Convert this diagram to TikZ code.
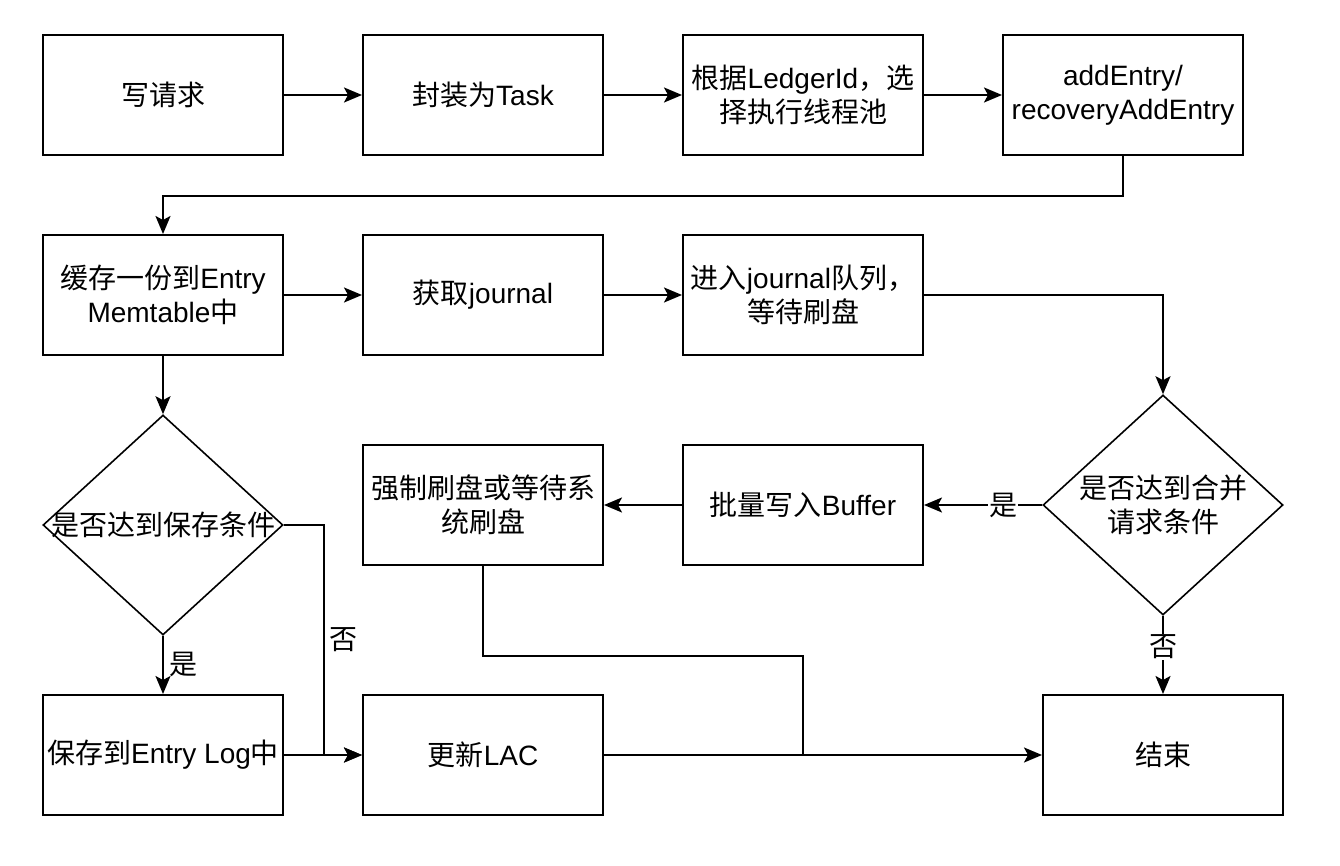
\documentclass[tikz,border=0pt]{standalone}
\usepackage{fontspec}
\setmainfont{Noto Sans CJK SC}
\newfontfamily\lat{Liberation Sans}
\usetikzlibrary{shapes.geometric,arrows.meta}
\newcommand\fs{\fontsize{28}{34}\selectfont}
\begin{document}
\begin{tikzpicture}[x=1pt,y=-1pt,
  box/.style={draw, line width=2pt, minimum width=240pt, minimum height=120pt, align=center, inner sep=0pt, font=\fs},
  dia/.style={draw, shape=diamond, line width=1.6pt, minimum width=240pt, minimum height=220pt, inner sep=0pt},
  txt/.style={align=center, inner sep=0pt, font=\fs},
  lbl/.style={font=\fs, fill=white, inner sep=1pt},
  line/.style={line width=2pt},
  arr/.style={line width=2pt, -{Stealth[length=18pt,width=15pt,inset=4pt]}}]
\fill[white] (0,0) rectangle (1340,866);
\useasboundingbox (0,0) rectangle (1340,866);
% row 1
\node[box] (a1) at (163,95) {写请求};
\node[box] (a2) at (483,95) {封装为{\lat Task}};
\node[box] (a3) at (803,95) {根据{\lat LedgerId}，选\\择执行线程池};
\node[box] (a4) at (1123,95) {{\lat addEntry/}\\{\lat recoveryAddEntry}};
% row 2
\node[box] (b1) at (163,295) {缓存一份到{\lat Entry}\\{\lat Memtable}中};
\node[box] (b2) at (483,295) {获取{\lat journal}};
\node[box] (b3) at (803,295) {进入{\lat journal}队列，\\等待刷盘};
% row 3
\node[box] (c1) at (483,505) {强制刷盘或等待系\\统刷盘};
\node[box] (c2) at (803,505) {批量写入{\lat Buffer}};
\node[dia] (d1) at (1163,505) {};
\node[txt] at (d1.center) {是否达到合并\\请求条件};
\node[dia] (d2) at (163,525) {};
\node[txt] at (d2.center) {是否达到保存条件};
% row 4
\node[box] (e1) at (163,755) {保存到{\lat Entry Log}中};
\node[box] (e2) at (483,755) {更新{\lat LAC}};
\node[box] (e3) at (1163,755) {结束};
% connectors
\draw[arr] (a1.east) -- (a2.west);
\draw[arr] (a2.east) -- (a3.west);
\draw[arr] (a3.east) -- (a4.west);
\draw[arr] (a4.south) -- ++(0,40) -| (b1.north);
\draw[arr] (b1.east) -- (b2.west);
\draw[arr] (b2.east) -- (b3.west);
\draw[arr] (b3.east) -| (d1.north);
\draw[arr] (d1.west) -- node[lbl, pos=0.33] {是} (c2.east);
\draw[arr] (c2.west) -- (c1.east);
\draw[line] (c1.south) -- ++(0,90) -| (c2.south |- e2.east);
\draw[arr] (e2.east) -- (e3.west);
\draw[arr] (d1.south) -- node[lbl, pos=0.4] {否} (e3.north);
\draw[arr] (b1.south) -- (d2.north);
\draw[arr] (d2.south) -- node[font=\fs, right, inner sep=5pt] {是} (e1.north);
\draw[arr] (d2.east) -- ++(40,0) |- node[font=\fs, right, inner sep=5pt, pos=0.25] {否} (e2.west);
\draw[arr] (e1.east) -- (e2.west);
\end{tikzpicture}
\end{document}
